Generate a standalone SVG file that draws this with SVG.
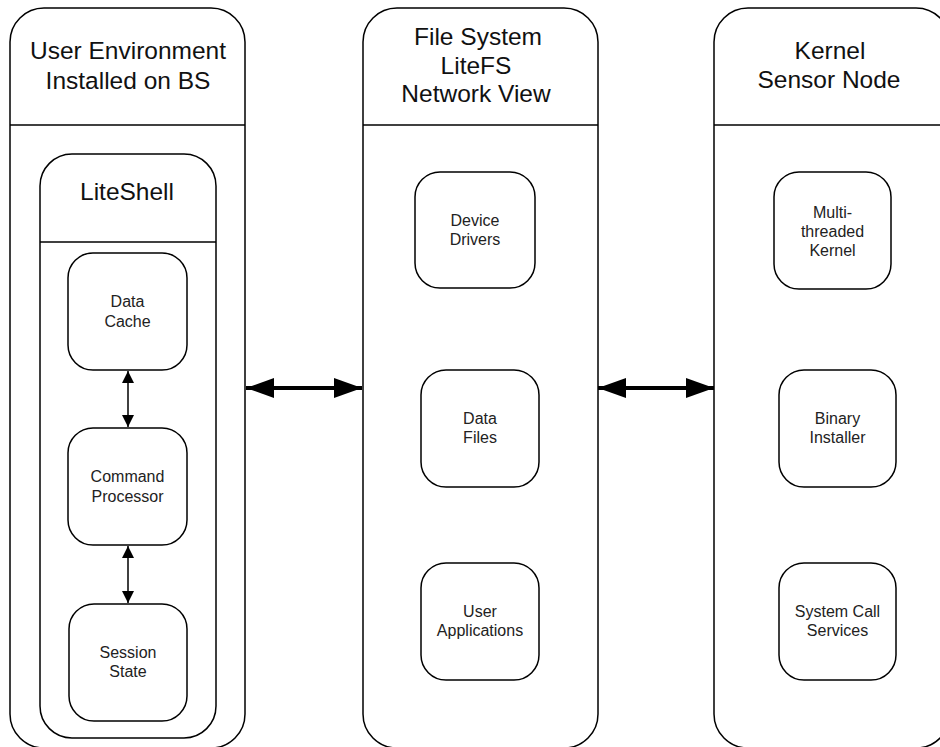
<svg xmlns="http://www.w3.org/2000/svg" width="940" height="747" viewBox="0 0 940 747">
<style>
.panel{fill:#fff;stroke:#000;stroke-width:1.5}
.box{fill:#fff;stroke:#000;stroke-width:1.5}
.sep{stroke:#000;stroke-width:1.5}
.h{font-family:"Liberation Sans",Arial,sans-serif;font-size:24.5px;fill:#111;text-anchor:middle}
.t{font-family:"Liberation Sans",Arial,sans-serif;font-size:16px;fill:#222;text-anchor:middle}
.thin{stroke:#000;stroke-width:1.5;fill:none}
.thick{stroke:#000;stroke-width:4;fill:none}
</style>
<defs>
<marker id="sa" viewBox="0 0 12 12" refX="12" refY="6" markerWidth="12" markerHeight="12" markerUnits="userSpaceOnUse" orient="auto-start-reverse">
<path d="M0,0 L12,6 L0,12 Z" fill="#000"/>
</marker>
<marker id="la" viewBox="0 0 28 20" refX="28" refY="10" markerWidth="28" markerHeight="20" markerUnits="userSpaceOnUse" orient="auto-start-reverse">
<path d="M0,0 L28,10 L0,20 Z" fill="#000"/>
</marker>
</defs>
<g id="panel-user">
<rect class="panel" x="10" y="8" width="235" height="740" rx="34"/>
<line class="sep" x1="10" y1="125" x2="245" y2="125"/>
<text class="h" x="128" y="59">User Environment</text>
<text class="h" x="128" y="89">Installed on BS</text>
</g>
<g id="panel-fs">
<rect class="panel" x="363" y="8" width="235" height="740" rx="34"/>
<line class="sep" x1="363" y1="125" x2="598" y2="125"/>
<text class="h" x="478" y="45">File System</text>
<text class="h" x="476" y="74">LiteFS</text>
<text class="h" x="476" y="102">Network View</text>
</g>
<g id="panel-kernel">
<rect class="panel" x="714" y="8" width="236" height="740" rx="34"/>
<line class="sep" x1="714" y1="125" x2="950" y2="125"/>
<text class="h" x="830" y="59">Kernel</text>
<text class="h" x="829" y="88">Sensor Node</text>
</g>
<g id="liteshell">
<rect class="panel" x="40" y="154" width="176" height="584" rx="32"/>
<line class="sep" x1="40" y1="242" x2="216" y2="242"/>
<text class="h" x="127" y="200">LiteShell</text>
</g>
<g id="data-cache">
<rect class="box" x="68" y="253" width="119" height="117" rx="25"/>
<text class="t" x="127.5" y="307">Data</text>
<text class="t" x="127.5" y="327">Cache</text>
</g>
<g id="command-processor">
<rect class="box" x="68" y="428" width="119" height="117" rx="25"/>
<text class="t" x="127.5" y="482">Command</text>
<text class="t" x="127.5" y="502">Processor</text>
</g>
<g id="session-state">
<rect class="box" x="69" y="604" width="118" height="117" rx="25"/>
<text class="t" x="128" y="658">Session</text>
<text class="t" x="128" y="677">State</text>
</g>
<g id="device-drivers">
<rect class="box" x="415" y="172" width="120" height="116" rx="25"/>
<text class="t" x="475" y="226">Device</text>
<text class="t" x="475" y="245">Drivers</text>
</g>
<g id="data-files">
<rect class="box" x="421" y="370" width="118" height="117" rx="25"/>
<text class="t" x="480" y="424">Data</text>
<text class="t" x="480" y="443">Files</text>
</g>
<g id="user-applications">
<rect class="box" x="421" y="563" width="118" height="117" rx="25"/>
<text class="t" x="480" y="617">User</text>
<text class="t" x="480" y="636">Applications</text>
</g>
<g id="multithreaded-kernel">
<rect class="box" x="774" y="172" width="117" height="117" rx="25"/>
<text class="t" x="832.5" y="218">Multi-</text>
<text class="t" x="832.5" y="237">threaded</text>
<text class="t" x="832.5" y="256">Kernel</text>
</g>
<g id="binary-installer">
<rect class="box" x="779" y="370" width="117" height="117" rx="25"/>
<text class="t" x="837.5" y="424">Binary</text>
<text class="t" x="837.5" y="443">Installer</text>
</g>
<g id="system-call-services">
<rect class="box" x="779" y="563" width="117" height="117" rx="25"/>
<text class="t" x="837.5" y="617">System Call</text>
<text class="t" x="837.5" y="636">Services</text>
</g>
<g id="connectors">
<line class="thin" x1="128" y1="371" x2="128" y2="427" marker-start="url(#sa)" marker-end="url(#sa)"/>
<line class="thin" x1="128" y1="546" x2="128" y2="603" marker-start="url(#sa)" marker-end="url(#sa)"/>
<line class="thick" x1="246" y1="388" x2="362" y2="388" marker-start="url(#la)" marker-end="url(#la)"/>
<line class="thick" x1="598" y1="388" x2="714" y2="388" marker-start="url(#la)" marker-end="url(#la)"/>
</g>
</svg>
